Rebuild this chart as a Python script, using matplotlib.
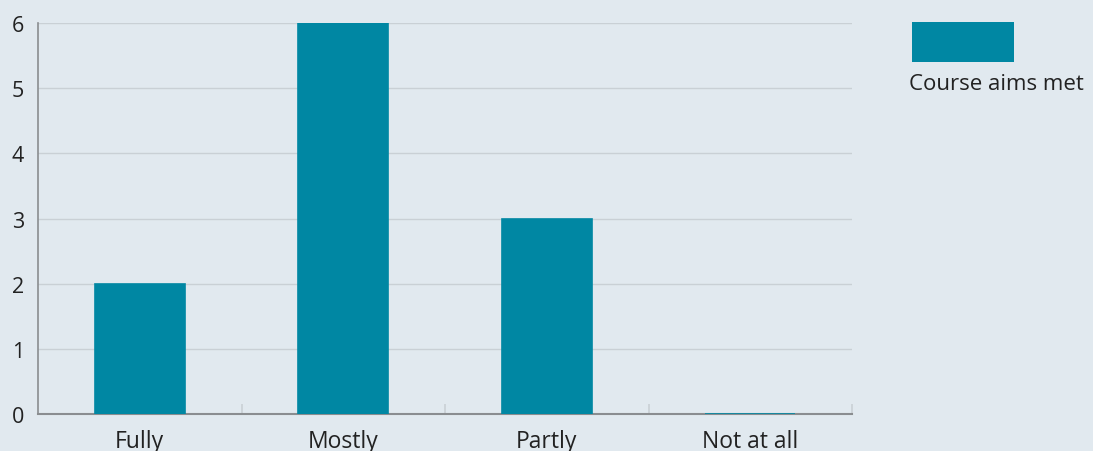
import matplotlib
matplotlib.use("Agg")
import matplotlib.pyplot as plt
from matplotlib.patches import Rectangle

categories = ["Fully", "Mostly", "Partly", "Not at all"]
counts = [2, 6, 3, 0]
series_name = "Course aims met"

BG = "#e1e9ef"
TEAL = "#0087a3"
GRID = "#c9d0d5"
AXIS = "#8a8d90"
TEXT = "#222222"

plt.rcParams['font.family'] = ['Open Sans', 'DejaVu Sans']

fig = plt.figure(figsize=(10.93, 4.52), dpi=100, facecolor=BG)
ax = fig.add_axes([38 / 1093, 1 - 415 / 452, (852 - 38) / 1093, (415 - 24) / 452])
ax.set_facecolor(BG)

x = range(len(categories))
ax.bar(x, counts, width=0.44, color=TEAL, edgecolor=TEAL, linewidth=1.2, zorder=3)

ax.set_xlim(-0.5, len(categories) - 0.5)
ax.set_ylim(0, 6)
ax.set_yticks(range(7))
ax.yaxis.grid(True, color=GRID, linewidth=1, zorder=0)
ax.tick_params(axis='y', length=0, pad=10, labelsize=15.5, labelcolor=TEXT)

# category labels centred, tick marks on category boundaries
ax.set_xticks(list(x))
ax.set_xticklabels(categories)
ax.tick_params(axis='x', which='major', length=0, pad=11, labelsize=16.5, labelcolor=TEXT)
ax.set_xticks([i + 0.5 for i in x], minor=True)
ax.tick_params(axis='x', which='minor', direction='in', length=7, color=GRID, width=1.2)

for side in ['top', 'right']:
    ax.spines[side].set_visible(False)
ax.spines['left'].set_color(AXIS)
ax.spines['bottom'].set_color(AXIS)
ax.spines['left'].set_linewidth(1.2)
ax.spines['bottom'].set_linewidth(1.5)
ax.spines['bottom'].set_zorder(2)

# legend: swatch with the series name underneath
fig.add_artist(Rectangle((912 / 1093, 1 - 63 / 452), 102 / 1093, 40 / 452,
                         transform=fig.transFigure, facecolor=TEAL, edgecolor='none'))
fig.text(909 / 1093, 1 - 84 / 452, series_name, ha='left', va='center',
         fontsize=16, color=TEXT)

fig.savefig("out.png", dpi=100, facecolor=BG)
